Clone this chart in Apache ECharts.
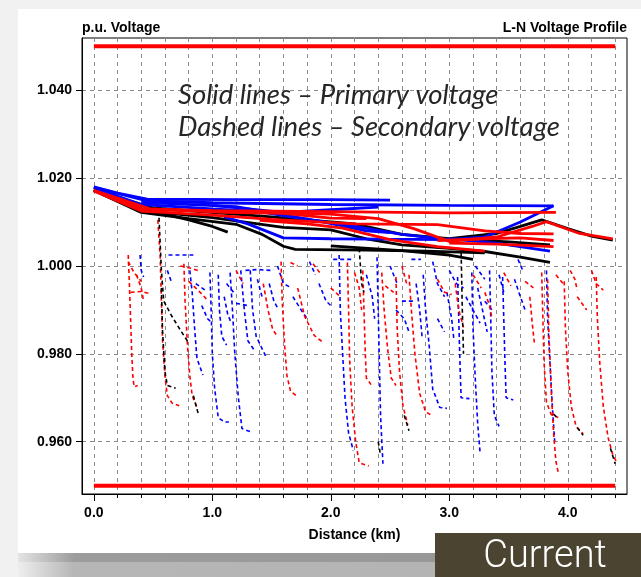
<!DOCTYPE html>
<html>
<head>
<meta charset="utf-8">
<script src="https://cdn.jsdelivr.net/npm/echarts@6/dist/echarts.min.js"></script>
<style>
  html, body { margin: 0; padding: 0; background: #ffffff; }
  #chart { width: 641px; height: 577px; }
</style>
</head>
<body>
<div id="chart"></div>
<script>
// Axis ticks and labels
const xTickValues = [0, 0.2, 0.4, 0.6, 0.8, 1.0, 1.2, 1.4, 1.6, 1.8, 2.0, 2.2, 2.4, 2.6, 2.8, 3.0, 3.2, 3.4, 3.6, 3.8, 4.0, 4.2, 4.4];
const xLabelValues = [0, 1, 2, 3, 4];
const yTickValues = [0.96, 0.98, 1.00, 1.02, 1.04];

// Voltage limits (p.u.) and the feeder length they span (km)
const upperLimit = 1.05;
const lowerLimit = 0.95;
const limitSpan = [0, 4.4];

// Primary (solid) voltage paths: [distance km, voltage p.u.]
const primaryBlack = [
  [[0,1.0174],[0.2,1.0155],[0.4,1.0128],[0.6,1.0118],[0.8,1.0105],[1.0,1.0090],[1.13,1.0077]],
  [[0,1.0172],[0.4,1.0122],[0.8,1.0108],[1.2,1.0095],[1.42,1.0072],[1.6,1.0045],[1.7,1.0038],[2.3,1.0036],[2.8,1.0034],[3.3,1.0030]],
  [[0,1.0173],[0.45,1.0125],[1.0,1.0110],[1.6,1.0088],[2.0,1.0082],[2.3,1.0062],[2.6,1.0048],[3.0,1.0040],[3.3,1.0033],[3.6,1.0020],[3.85,1.0008]],
  [[0,1.0174],[0.5,1.0132],[1.5,1.0112],[2.2,1.0096],[2.6,1.0072],[3.0,1.0062],[3.4,1.0074],[3.6,1.0090],[3.78,1.0105],[4.0,1.0085],[4.2,1.0068],[4.38,1.0059]],
  [[2.0,1.0046],[2.6,1.0035],[3.0,1.0025],[3.2,1.0015]],
  [[3.15,1.0060],[3.5,1.0055],[3.85,1.0048]]
];
const primaryBlue = [
  [[0,1.0180],[0.2,1.0166],[0.45,1.0152],[1.2,1.0151],[2.0,1.0151],[2.5,1.0150]],
  [[0,1.0179],[0.45,1.0148],[1.0,1.0144],[2.0,1.0140],[3.0,1.0138],[3.88,1.0137]],
  [[0,1.0178],[0.4,1.0140],[1.0,1.0130],[1.4,1.0124],[1.7,1.0110],[2.2,1.0090],[2.6,1.0072],[3.0,1.0060],[3.3,1.0066],[3.6,1.0100],[3.88,1.0137]],
  [[1.0,1.0138],[1.6,1.0122],[2.0,1.0128],[2.4,1.0134]],
  [[3.0,1.0062],[3.4,1.0052],[3.85,1.0034]],
  [[0.4,1.0145],[1.2,1.0135],[1.9,1.0102],[2.3,1.0080],[2.5,1.0076]],
  [[1.1,1.0112],[1.3,1.0096],[1.6,1.0064],[2.0,1.0062],[2.4,1.0061],[3.0,1.0060]]
];
const primaryRed = [
  [[0,1.0172],[0.4,1.0130],[1.0,1.0126],[2.0,1.0124],[3.0,1.0121],[3.9,1.0122]],
  [[0,1.0171],[0.4,1.0125],[1.0,1.0116],[1.5,1.0106],[2.2,1.0096],[2.9,1.0094],[3.3,1.0080],[3.6,1.0074],[3.88,1.0073]],
  [[0,1.0172],[0.5,1.0128],[1.2,1.0124],[2.0,1.0118],[2.4,1.0108],[2.7,1.0085],[3.0,1.0056],[3.4,1.0066],[3.7,1.0090],[3.82,1.0101],[4.1,1.0074],[4.38,1.0062]],
  [[1.4,1.0104],[1.8,1.0096],[2.1,1.0086],[2.5,1.0060],[2.9,1.0044],[3.3,1.0034]],
  [[2.9,1.0058],[3.3,1.0062],[3.6,1.0064],[3.88,1.0058]],
  [[0.5,1.0130],[1.1,1.0122],[1.6,1.0120],[2.0,1.0109],[2.3,1.0108]],
  [[3.0,1.0052],[3.4,1.0050],[3.88,1.0044]]
];

// Secondary (dashed) voltage paths: [distance km, voltage p.u.]
const secondaryRed = [
  [[0.29,1.0025],[0.30,0.996],[0.31,0.988],[0.32,0.980],[0.33,0.9745],[0.34,0.9725],[0.37,0.9728]],
  [[0.54,1.0105],[0.56,1.002],[0.57,0.992],[0.58,0.983],[0.60,0.975],[0.62,0.9705],[0.66,0.9688],[0.72,0.9682]],
  [[0.76,1.0005],[0.77,0.992],[0.79,0.982],[0.81,0.975],[0.83,0.9705],[0.87,0.9678]],
  [[1.58,1.0010],[1.59,0.992],[1.61,0.982],[1.63,0.975],[1.66,0.9715],[1.72,0.9702]],
  [[2.14,1.0008],[2.15,0.990],[2.16,0.978],[2.18,0.968],[2.21,0.960],[2.24,0.9552],[2.32,0.9545]],
  [[2.27,0.999],[2.28,0.990],[2.29,0.981],[2.30,0.9745],[2.34,0.9730]],
  [[2.43,0.9985],[2.45,0.990],[2.48,0.981],[2.51,0.9745],[2.55,0.9728]],
  [[2.55,0.9975],[2.56,0.986],[2.58,0.976],[2.61,0.968],[2.65,0.9638]],
  [[2.66,0.998],[2.68,0.990],[2.71,0.980],[2.75,0.971],[2.80,0.9668],[2.84,0.9662]],
  [[3.78,0.9985],[3.79,0.988],[3.80,0.978],[3.82,0.969],[3.86,0.9662],[3.92,0.9655]],
  [[3.83,0.997],[3.84,0.985],[3.86,0.972],[3.88,0.962],[3.90,0.9555],[3.92,0.953]],
  [[3.97,0.9965],[3.98,0.986],[4.00,0.976],[4.03,0.968],[4.07,0.9635],[4.13,0.9618]],
  [[4.24,0.9975],[4.25,0.988],[4.27,0.978],[4.30,0.968],[4.34,0.961],[4.38,0.957],[4.41,0.9555]],
  [[0.29,1.0010],[0.34,0.9985],[0.40,0.9965]],
  [[0.31,0.9940],[0.40,0.9942],[0.46,0.9938]],
  [[0.73,1.0000],[0.82,0.9995],[0.90,0.9988]],
  [[0.80,0.9965],[0.88,0.9945],[0.95,0.9925]],
  [[1.43,0.9960],[1.47,0.990],[1.51,0.9855],[1.55,0.9840]],
  [[1.66,1.0008],[1.72,1.0000]],
  [[1.72,0.9950],[1.78,0.9885],[1.86,0.9842],[1.94,0.9825]],
  [[1.85,1.0005],[1.92,0.9980]],
  [[2.00,0.9950],[2.08,0.9930]],
  [[2.46,0.9955],[2.53,0.9940]],
  [[2.60,1.0000],[2.64,0.9960]],
  [[2.90,0.9970],[2.96,0.9940],[3.02,0.9935]],
  [[3.05,0.9960],[3.08,0.9900],[3.12,0.9860]],
  [[3.20,0.9980],[3.27,0.9950]],
  [[3.46,0.9985],[3.52,0.9955]],
  [[3.64,0.9965],[3.71,0.9950]],
  [[3.90,0.9980],[3.96,0.9960]],
  [[4.08,0.9930],[4.16,0.9900]],
  [[4.20,0.9990],[4.24,0.9960],[4.30,0.9945]],
  [[0.36,0.9980],[0.40,0.9950],[0.42,0.9920]],
  [[1.20,0.9990],[1.26,0.9960]],
  [[2.20,0.9985],[2.24,0.9950],[2.26,0.9900]],
  [[3.30,0.9940],[3.34,0.9910],[3.36,0.9880]],
  [[3.68,0.9930],[3.70,0.9870],[3.72,0.9820]],
  [[4.02,0.9990],[4.06,0.9970],[4.08,0.9945]]
];
const secondaryBlue = [
  [[0.39,1.0025],[0.40,0.9990],[0.42,0.9975]],
  [[0.63,1.0025],[0.74,1.0025],[0.84,1.0025]],
  [[0.81,0.9990],[0.83,0.9940],[0.85,0.9860],[0.87,0.9790],[0.92,0.9752]],
  [[0.98,0.9985],[0.99,0.9900],[1.00,0.9800],[1.02,0.9720],[1.05,0.9655],[1.10,0.9645],[1.14,0.9645]],
  [[1.05,0.9980],[1.06,0.9900],[1.08,0.9840],[1.12,0.9820]],
  [[1.15,0.9985],[1.17,0.9900],[1.19,0.9800],[1.22,0.9700],[1.25,0.9630],[1.33,0.9622]],
  [[1.24,0.9990],[1.27,0.9900],[1.30,0.9830],[1.35,0.9810]],
  [[1.32,0.9990],[1.34,0.9900],[1.37,0.9840],[1.45,0.9795]],
  [[1.28,0.9990],[1.38,0.9992],[1.49,0.9990]],
  [[2.07,1.0025],[2.08,0.9900],[2.10,0.9800],[2.12,0.9700],[2.15,0.9620],[2.19,0.9580]],
  [[2.39,1.0020],[2.40,0.9900],[2.41,0.9780],[2.42,0.9660],[2.44,0.9550]],
  [[2.78,0.9980],[2.80,0.9900],[2.83,0.9820],[2.86,0.9720],[2.92,0.9678],[2.98,0.9676]],
  [[3.07,0.9975],[3.08,0.9880],[3.09,0.9780],[3.10,0.9700],[3.17,0.9698]],
  [[3.19,0.9985],[3.20,0.9860],[3.22,0.9740],[3.24,0.9640],[3.26,0.9575]],
  [[3.34,0.9990],[3.35,0.9880],[3.36,0.9760],[3.38,0.9660],[3.42,0.9635]],
  [[3.45,0.9975],[3.46,0.9880],[3.47,0.9780],[3.48,0.9700],[3.54,0.9695]],
  [[3.82,0.9990],[3.83,0.9880],[3.85,0.9780],[3.87,0.9680],[3.89,0.9600]],
  [[0.62,0.9990],[0.66,0.9960]],
  [[0.86,0.9960],[0.94,0.9945]],
  [[0.91,0.9910],[0.96,0.9880],[1.00,0.9870]],
  [[1.12,0.9960],[1.18,0.9940]],
  [[1.20,0.9915],[1.30,0.9910]],
  [[1.38,0.9970],[1.42,0.9930]],
  [[1.55,1.0000],[1.60,0.9960],[1.67,0.9950]],
  [[1.68,0.9930],[1.75,0.9900],[1.80,0.9880]],
  [[1.82,1.0010],[1.87,0.9980]],
  [[1.90,0.9960],[1.96,0.9920],[2.00,0.9910]],
  [[2.02,1.0015],[2.10,1.0015],[2.18,1.0015]],
  [[2.30,0.9980],[2.35,0.9930],[2.37,0.9880]],
  [[2.50,1.0000],[2.56,0.9960]],
  [[2.60,0.9920],[2.70,0.9920]],
  [[2.68,1.0015],[2.76,1.0015]],
  [[2.86,1.0010],[2.90,0.9960],[2.96,0.9930]],
  [[3.00,0.9990],[3.06,0.9960],[3.12,0.9950]],
  [[3.14,0.9930],[3.20,0.9900],[3.26,0.9870]],
  [[3.22,1.0000],[3.30,0.9970]],
  [[3.30,0.9920],[3.36,0.9900]],
  [[3.42,0.9980],[3.46,0.9940]],
  [[3.55,0.9970],[3.60,0.9930],[3.64,0.9900]],
  [[3.58,1.0015],[3.62,0.9990]],
  [[2.55,0.9900],[2.62,0.9880],[2.66,0.9850]],
  [[2.90,0.9880],[2.96,0.9850]],
  [[1.10,0.9930],[1.13,0.9890],[1.16,0.9870]],
  [[1.48,0.9960],[1.52,0.9920],[1.56,0.9900]],
  [[2.72,0.9960],[2.75,0.9900],[2.77,0.9840]],
  [[2.98,0.9940],[3.02,0.9880],[3.04,0.9830]],
  [[3.24,0.9950],[3.28,0.9900],[3.32,0.9850]]
];
const secondaryBlack = [
  [[0.55,1.0110],[0.57,0.9990],[0.59,0.9920],[0.66,0.9885],[0.74,0.9850],[0.80,0.9825]],
  [[0.57,0.9950],[0.58,0.9850],[0.60,0.9760],[0.62,0.9728],[0.69,0.9722]],
  [[0.84,0.9705],[0.87,0.9675],[0.88,0.9665]],
  [[2.24,1.0040],[2.26,0.9960],[2.28,0.9940]],
  [[3.10,1.0030],[3.11,0.9900],[3.12,0.9800]],
  [[2.62,0.9660],[2.66,0.9625]],
  [[4.08,0.9632],[4.13,0.9615]],
  [[4.36,0.9585],[4.40,0.9550]],
  [[3.88,0.9663],[3.92,0.9652]],
  [[2.40,0.9600],[2.42,0.9570]]
];

const RED = '#ff0000', BLUE = '#0000ff', BLACK = '#000000';
const labelFont = "'Liberation Sans', Arial, sans-serif";
const labelStyle = { fontFamily: labelFont, fontWeight: 'bold', fontSize: 14, color: '#000' };

function pathSeries(paths, color, width, dashed, z) {
  return paths.map(p => ({
    type: 'line',
    data: p,
    symbol: 'none',
    showSymbol: false,
    silent: true,
    animation: false,
    z: z,
    lineStyle: { color: color, width: width, type: dashed ? [4, 3] : 'solid', cap: 'butt' }
  }));
}

const series = [].concat(
  pathSeries(secondaryBlue, BLUE, 1.6, true, 2),
  pathSeries(secondaryRed, RED, 1.6, true, 2),
  pathSeries(secondaryBlack, BLACK, 1.6, true, 2),
  pathSeries(primaryBlack, BLACK, 2.8, false, 3),
  pathSeries(primaryBlue, BLUE, 2.8, false, 3),
  pathSeries(primaryRed, RED, 2.8, false, 3),
  pathSeries([
    [[limitSpan[0], upperLimit], [limitSpan[1], upperLimit]],
    [[limitSpan[0], lowerLimit], [limitSpan[1], lowerLimit]]
  ], RED, 4, false, 4)
);

const chart = echarts.init(document.getElementById('chart'), null, { renderer: 'canvas' });
chart.setOption({
  backgroundColor: '#ffffff',
  animation: false,
  title: [
    { text: 'p.u. Voltage', left: 82, top: 21, padding: 0,
      textStyle: Object.assign({ lineHeight: 15 }, labelStyle) },
    { text: 'L-N Voltage Profile', right: 14, top: 21, padding: 0,
      textStyle: Object.assign({ lineHeight: 15 }, labelStyle) }
  ],
  grid: { left: 82, right: 14, top: 38, bottom: 83, show: true, borderColor: '#000', borderWidth: 1, backgroundColor: 'transparent' },
  xAxis: [
    {
      type: 'value', min: -0.1, max: 4.5,
      name: 'Distance (km)', nameLocation: 'middle', nameGap: 34,
      nameTextStyle: labelStyle,
      axisLine: { show: true, onZero: false, lineStyle: { color: '#000', width: 1 } },
      axisTick: { show: true, customValues: xTickValues, length: 4, lineStyle: { color: '#000' } },
      axisLabel: Object.assign({ customValues: xLabelValues, formatter: v => Number(v).toFixed(1), margin: 12 }, labelStyle),
      splitLine: { show: true, lineStyle: { color: '#8a8a8a', type: [4, 4], width: 1 } }
    },
    {
      type: 'value', min: -0.1, max: 4.5, position: 'bottom',
      axisLine: { show: false },
      axisTick: { show: true, customValues: xLabelValues, length: 7, lineStyle: { color: '#000' } },
      axisLabel: { show: false },
      splitLine: { show: false }
    }
  ],
  yAxis: {
    type: 'value', min: 0.9481, max: 1.0519,
    axisLine: { show: true, onZero: false, lineStyle: { color: '#000', width: 1 } },
    axisTick: { show: true, customValues: yTickValues, length: 6, lineStyle: { color: '#000' } },
    axisLabel: Object.assign({ customValues: yTickValues, formatter: v => Number(v).toFixed(3), margin: 10 }, labelStyle),
    splitLine: { show: true, lineStyle: { color: '#8a8a8a', type: [4, 4], width: 1 } }
  },
  graphic: [
    { type: 'rect', z: -10, shape: { x: 0, y: 0, width: 641, height: 577 }, style: { fill: '#f1f1f1' }, silent: true },
    { type: 'rect', z: -9, shape: { x: 18, y: 9, width: 623, height: 544 }, style: { fill: '#ffffff' }, silent: true },
    { type: 'rect', z: -9, shape: { x: 18, y: 553, width: 623, height: 9 }, silent: true,
      style: { fill: new echarts.graphic.LinearGradient(0, 0, 1, 0, [
        { offset: 0, color: '#e4e4e4' }, { offset: 0.09, color: '#9c9c9c' }, { offset: 1, color: '#969696' }]) } },
    { type: 'rect', z: -9, shape: { x: 18, y: 562, width: 623, height: 15 }, silent: true,
      style: { fill: new echarts.graphic.LinearGradient(0, 0, 1, 0, [
        { offset: 0, color: '#eeeeee' }, { offset: 0.09, color: '#b6b6b6' }, { offset: 1, color: '#b3b3b3' }]) } },
    { type: 'rect', z: 50, shape: { x: 435, y: 533, width: 206, height: 44 }, style: { fill: '#4b4430' }, silent: true },
    { type: 'text', z: 51, x: 545, y: 576, silent: true,
      style: { text: 'Current', fill: '#ffffff', font: "300 38px Roboto, 'Open Sans', sans-serif", textAlign: 'center', textVerticalAlign: 'bottom' } },
    { type: 'text', z: 60, x: 178, y: 95, silent: true,
      style: { text: 'Solid lines – Primary voltage', fill: '#262626', font: "italic 400 27.5px Lato, 'Open Sans', sans-serif", textVerticalAlign: 'middle' } },
    { type: 'text', z: 60, x: 178, y: 127, silent: true,
      style: { text: 'Dashed lines – Secondary voltage', fill: '#262626', font: "italic 400 27.5px Lato, 'Open Sans', sans-serif", textVerticalAlign: 'middle' } }
  ],
  series: series
});
</script>
</body>
</html>
